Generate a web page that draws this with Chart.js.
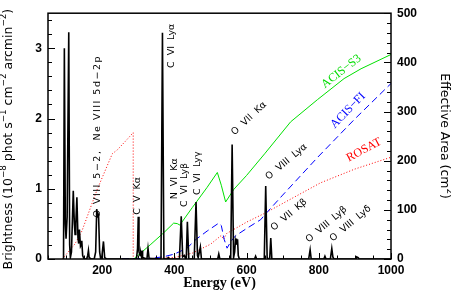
<!DOCTYPE html>
<html>
<head>
<meta charset="utf-8">
<script src="https://cdn.jsdelivr.net/npm/chart.js@4"></script>
<style>
  body { margin: 0; background: #fff; }
  canvas { display: block; }
</style>
</head>
<body>
<canvas id="myChart" width="451" height="290"></canvas>
<script>

// spectrum: energy (eV) and brightness (1e-8 phot s-1 cm-2 arcmin-2)
let specE = [93, 95.3, 98, 100, 103, 107.5, 110, 112, 115, 120, 123, 125, 127, 130, 133, 135, 137, 140, 142, 143.6, 146, 150,
  157, 160, 162, 164, 170, 178, 182, 185, 186.5, 188, 190, 193, 196, 199, 203.6, 207, 212,
  295, 298, 300, 302, 305, 307, 309, 310.5, 312, 324, 327, 330, 363, 367, 371, 380, 383, 386,
  414, 419, 423, 428, 431, 433, 436, 440, 455, 460, 464, 466, 472, 475, 520, 523, 526,
  556, 560, 564, 567, 569, 570.5, 572, 573.5, 575, 577, 580, 622, 625, 628,
  649, 653, 657, 660, 664, 667, 670, 772, 776, 779,
  814, 817, 820, 832, 836, 839, 842, 903, 905, 909, 912, 1000];
let specB = [0, 3.0, 0.5, 0.29, 0.6, 3.23, 0.2, 0.02, 0.1, 0.97, 0.5, 0.35, 0.5, 0.88, 0.3, 0.22, 0.42, 0.18, 0.2, 0.26, 0.05, 0,
  0, 0.05, 0.12, 0.02, 0, 0, 0.1, 0.71, 0.6, 0.65, 0.63, 0.1, 0, 0.02, 0.25, 0.02, 0,
  0, 0.15, 0.6, 0.1, 0.05, 0.08, 0.03, 0.12, 0.02, 0, 0.15, 0.01, 0, 3.22, 0, 0, 0.02, 0,
  0, 0.61, 0.03, 0.05, 0, 0, 0.53, 0, 0, 0.81, 0.05, 0.02, 0.17, 0, 0, 0.07, 0,
  0, 1.63, 0.02, 0.1, 0.25, 0.2, 0.29, 0.22, 0.28, 0.05, 0, 0, 0.04, 0,
  0, 1.04, 0.02, 0, 0, 0.3, 0, 0, 0.13, 0,
  0, 0.04, 0, 0, 0.15, 0.03, 0, 0, 0.03, 0.02, 0, 0];

// effective areas (cm2)
let rosatE = [90, 92, 125, 144, 186, 228, 242, 265, 286, 286, 330, 400, 450, 500, 530, 536, 545, 600, 653, 700, 805, 900, 1000];
let rosatA = [0, 2, 31, 57, 141, 214, 222, 240, 257, 0, 1, 3, 12, 30, 48, 40, 52, 75, 94, 113, 155, 183, 207];

let s3E = [290, 305, 335, 370, 398, 408, 415, 450, 490, 519, 530, 542, 565, 600, 650, 722, 796, 870, 917, 1000];
let s3A = [2, 11, 30, 53, 73, 72, 69, 105, 145, 176, 150, 116, 142, 170, 214, 279, 324, 367, 387, 416];

let fiE = [255, 330, 370, 400, 435, 460, 491, 523, 530, 538, 546, 556, 569, 600, 639, 653, 700, 797, 900, 1000];
let fiA = [1, 1, 4.5, 10, 22, 40, 57, 73, 68, 40, 22, 35, 47, 62, 80, 92, 130, 207, 285, 357];

let xTicks = [200, 400, 600, 800, 1000];
let yTicks = [0, 1, 2, 3];
let y2Ticks = [0, 100, 200, 300, 400, 500];

// line labels
let notes = [
  { text: 'O VIII 5\u22122,  Ne VIII 5d\u22122p', x: 187.5, y: 0.59, axis: 'y', angle: -90, color: '#000', spacing: 1.5 },
  { text: 'C  V  K\u03b1', x: 298.6, y: 0.63, axis: 'y', angle: -90, color: '#000' },
  { text: 'C  VI  Ly\u03b1', x: 391.7, y: 2.72, axis: 'y', angle: -90, color: '#000' },
  { text: 'N  VI  K\u03b1', x: 401, y: 0.85, axis: 'y', angle: -90, color: '#000' },
  { text: 'C  VI  Ly\u03b2', x: 427.8, y: 0.74, axis: 'y', angle: -90, color: '#000' },
  { text: 'C  VI  Ly\u03b3', x: 463.9, y: 0.91, axis: 'y', angle: -90, color: '#000' },
  { text: 'O  VII  K\u03b1', x: 566.7, y: 1.76, axis: 'y', angle: -43, color: '#000' },
  { text: 'O  VIII  Ly\u03b1', x: 661, y: 1.125, axis: 'y', angle: -40, color: '#000' },
  { text: 'O  VII  K\u03b2', x: 675, y: 0.40, axis: 'y', angle: -40, color: '#000' },
  { text: 'O  VIII  Ly\u03b2', x: 772, y: 0.233, axis: 'y', angle: -40, color: '#000' },
  { text: 'O  VIII  Ly\u03b4', x: 839, y: 0.247, axis: 'y', angle: -40, color: '#000' },
  { text: 'ACIS\u2212S3', x: 816.7, y: 347, axis: 'y2', angle: -38, color: '#00dd00', big: true },
  { text: 'ACIS\u2212FI', x: 844, y: 265, axis: 'y2', angle: -46, color: '#0000ff', big: true },
  { text: 'ROSAT', x: 883, y: 198, axis: 'y2', angle: -28, color: '#ff0000', big: true }
];

function toXY(xs, ys) {
  let out = [];
  for (let i = 0; i < xs.length; i++) {
    out.push({ x: xs[i], y: ys[i] });
  }
  return out;
}

function drawSup(ctx, parts, x, y, size) {
  // parts: [text, isSup]
  let cx = x;
  for (let i = 0; i < parts.length; i++) {
    let p = parts[i];
    ctx.font = (p[1] ? size * 0.7 : size) + 'px "DejaVu Sans"';
    ctx.fillText(p[0], cx, p[1] ? y - size * 0.4 : y);
    cx += ctx.measureText(p[0]).width;
  }
  return cx - x;
}

function measureSup(ctx, parts, size) {
  let w = 0;
  for (let i = 0; i < parts.length; i++) {
    ctx.font = (parts[i][1] ? size * 0.7 : size) + 'px "DejaVu Sans"';
    w += ctx.measureText(parts[i][0]).width;
  }
  return w;
}

const frame = {
  id: 'frame',
  afterDraw(chart) {
    let ctx = chart.ctx;
    let a = chart.chartArea;
    let x = chart.scales.x, y = chart.scales.y, y2 = chart.scales.y2;
    ctx.save();

    // inward ticks
    ctx.strokeStyle = '#000';
    ctx.lineWidth = 1;
    ctx.beginPath();
    for (let i = 0; i <= 17; i++) {
      let py = Math.round(y.getPixelForValue(i * 0.2)) + 0.5;
      let len = (i % 5 == 0) ? 7 : 4;
      ctx.moveTo(a.left, py);
      ctx.lineTo(a.left + len, py);
    }
    for (let i = 0; i <= 25; i++) {
      let py = Math.round(y2.getPixelForValue(i * 20)) + 0.5;
      let len = (i % 5 == 0) ? 7 : 4;
      ctx.moveTo(a.right, py);
      ctx.lineTo(a.right - len, py);
    }
    for (let v = 50; v <= 1000; v += 50) {
      let px = Math.round(x.getPixelForValue(v)) + 0.5;
      let len = (v % 200 == 0) ? 6 : 3.5;
      ctx.moveTo(px, a.bottom);
      ctx.lineTo(px, a.bottom - len);
    }
    ctx.stroke();

    ctx.lineWidth = 1.5;
    ctx.strokeRect(a.left, a.top, a.right - a.left, a.bottom - a.top);

    // line labels
    for (let i = 0; i < notes.length; i++) {
      let n = notes[i];
      let px = x.getPixelForValue(n.x);
      let py = chart.scales[n.axis].getPixelForValue(n.y);
      ctx.save();
      ctx.translate(px, py);
      ctx.rotate(n.angle * Math.PI / 180);
      ctx.fillStyle = n.color;
      ctx.font = n.big ? '12px "Liberation Serif"' : '9.5px "DejaVu Sans"';
      ctx.letterSpacing = (n.spacing || 0) + 'px';
      ctx.textAlign = 'left';
      ctx.textBaseline = n.angle == -90 ? 'middle' : 'alphabetic';
      ctx.fillText(n.text, 0, 0);
      ctx.restore();
    }
    ctx.letterSpacing = '0px';

    // axis titles
    ctx.fillStyle = '#000';
    ctx.textBaseline = 'middle';
    ctx.textAlign = 'left';
    let yParts = [['Brightness (10', false], ['\u22128', true], [' phot s', false], ['\u22121', true],
      [' cm', false], ['\u22122', true], [' arcmin', false], ['\u22122', true], [')', false]];
    let cy = (a.top + a.bottom) / 2 + 3;
    ctx.save();
    ctx.translate(9, cy);
    ctx.rotate(-Math.PI / 2);
    let w = measureSup(ctx, yParts, 12.5);
    drawSup(ctx, yParts, -w / 2, 0, 12.5);
    ctx.restore();

    let rParts = [['Effective Area (cm', false], ['2', true], [')', false]];
    ctx.save();
    ctx.translate(444, (a.top + a.bottom) / 2);
    ctx.rotate(Math.PI / 2);
    w = measureSup(ctx, rParts, 12.5);
    drawSup(ctx, rParts, -w / 2, 0, 12.5);
    ctx.restore();

    ctx.font = 'bold 14px "Liberation Serif"';
    ctx.textAlign = 'center';
    ctx.fillText('Energy (eV)', (a.left + a.right) / 2, 283);

    ctx.restore();
  }
};

const data = {
  datasets: [
    {
      label: 'spectrum',
      data: toXY(specE, specB),
      yAxisID: 'y',
      borderColor: '#000',
      borderWidth: 1.6,
      pointRadius: 0,
      order: 0
    },
    {
      label: 'ACIS-S3',
      data: toXY(s3E, s3A),
      yAxisID: 'y2',
      borderColor: '#00e000',
      borderWidth: 1,
      pointRadius: 0,
      order: 1
    },
    {
      label: 'ACIS-FI',
      data: toXY(fiE, fiA),
      yAxisID: 'y2',
      borderColor: '#0000ff',
      borderWidth: 1,
      borderDash: [7, 4],
      pointRadius: 0,
      order: 1
    },
    {
      label: 'ROSAT',
      data: toXY(rosatE, rosatA),
      yAxisID: 'y2',
      borderColor: '#ff0000',
      borderWidth: 1,
      borderDash: [1, 2],
      pointRadius: 0,
      order: 1
    }
  ]
};

const tickFont = { family: '"Liberation Sans"', size: 12, weight: 'bold' };

const config = {
  type: 'scatter',
  data: data,
  options: {
    responsive: false,
    animation: false,
    devicePixelRatio: 1,
    showLine: true,
    layout: { padding: { top: 4, left: 0, right: 0, bottom: 0 } },
    plugins: { legend: { display: false }, tooltip: { enabled: false } },
    elements: { line: { tension: 0, fill: false } },
    scales: {
      x: {
        type: 'linear',
        min: 50,
        max: 1000,
        grid: { display: false, drawTicks: false },
        border: { display: false },
        ticks: { color: '#000', font: tickFont, padding: 4, maxRotation: 0, callback: v => String(v) },
        afterBuildTicks: s => { s.ticks = xTicks.map(v => ({ value: v })); },
        afterFit: s => { s.height = 31; }
      },
      y: {
        position: 'left',
        min: 0,
        max: 3.5,
        grid: { display: false, drawTicks: false },
        border: { display: false },
        ticks: { color: '#000', font: tickFont, padding: 6, callback: v => String(v) },
        afterBuildTicks: s => { s.ticks = yTicks.map(v => ({ value: v })); },
        afterFit: s => { s.width = 48; }
      },
      y2: {
        position: 'right',
        min: 0,
        max: 500,
        grid: { display: false, drawTicks: false },
        border: { display: false },
        ticks: { color: '#000', font: tickFont, padding: 6, callback: v => String(v) },
        afterBuildTicks: s => { s.ticks = y2Ticks.map(v => ({ value: v })); },
        afterFit: s => { s.width = 60; }
      }
    }
  },
  plugins: [frame]
};

var myChart = new Chart(document.getElementById('myChart'), config);
</script>
</body>
</html>
